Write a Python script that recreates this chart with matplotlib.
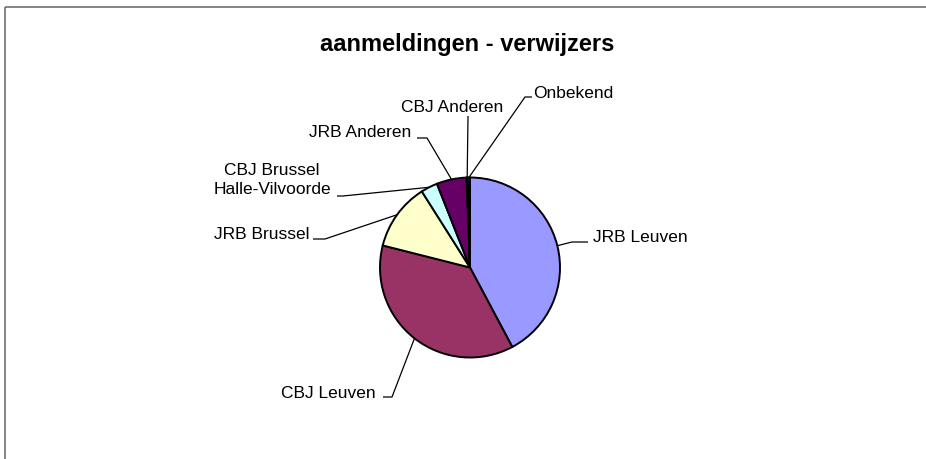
import matplotlib
matplotlib.use("Agg")
import matplotlib.pyplot as plt
from matplotlib.patches import Rectangle
import numpy as np

# data (share in %)
categories = ["JRB Leuven", "CBJ Leuven", "JRB Brussel", "CBJ Brussel\nHalle-Vilvoorde",
              "JRB Anderen", "CBJ Anderen", "Onbekend"]
values = [42.3, 36.8, 12.1, 3.0, 5.4, 0.2, 0.4]
colors = ["#9999FF", "#993366", "#FFFFCC", "#CCFFFF", "#660066", "#FF8080", "#0066CC"]

# label layout in pixels: elbow of leader line, end of short stub, text anchor, alignment
elbows = [(572, 243), (392, 398), (325, 240), (343, 197), (427, 139), (468, 117), (525, 98)]
stubs = [(588, 243), (383, 398), (313, 240), (337, 197), (417, 139), (468, 117), (532, 98)]
text_pos = [(593, 238), (376, 394), (309, 235), (272, 180), (411, 133), (452, 107), (533, 94)]
text_ha = ["left", "right", "right", "center", "right", "center", "left"]

plt.rcParams['font.family'] = ['Liberation Sans', 'DejaVu Sans']

fig = plt.figure(figsize=(9.26, 4.6), dpi=100)
ax = fig.add_axes([0, 0, 1, 1])

# frame of the chart area (runs off to the right and bottom)
ax.add_patch(Rectangle((5, 8), 1200, 1200, fill=False, edgecolor="#707070", linewidth=1.2, clip_on=False))

ax.text(467, 51, "aanmeldingen - verwijzers", ha="center", va="baseline",
        fontsize=17, fontweight="bold")

cx, cy, r = 470, 268.5, 90
# y axis is inverted, so counterclock=True shows clockwise on screen, -90 is the top
wedges, _ = ax.pie(values, colors=colors, startangle=-90, counterclock=True,
                   center=(cx, cy), radius=r, frame=True,
                   wedgeprops=dict(edgecolor="black", linewidth=1.4))
ax.set_xlim(0, 926)
ax.set_ylim(460, 0)  # pixel coordinates, y downwards
ax.set_aspect('equal')
ax.axis('off')

for w, lab, el, st, tp, ha in zip(wedges, categories, elbows, stubs, text_pos, text_ha):
    mid = np.deg2rad((w.theta1 + w.theta2) / 2)
    x0, y0 = cx + r * np.cos(mid), cy + r * np.sin(mid)
    ax.plot([x0, el[0], st[0]], [y0, el[1], st[1]], color="black", linewidth=0.9,
            solid_capstyle="butt")
    ax.text(tp[0], tp[1], lab, ha=ha, va="center", fontsize=12.5, multialignment="center",
            linespacing=1.3)

fig.savefig("out.png", dpi=100)
